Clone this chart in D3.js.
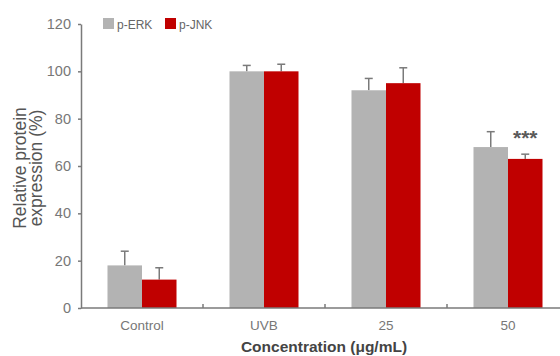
<!DOCTYPE html>
<html>
<head>
<meta charset="utf-8">
<script src="https://cdn.jsdelivr.net/npm/d3@7"></script>
<style>
  html, body { margin: 0; padding: 0; background: #fff; }
  svg { display: block; font-family: "Liberation Sans", Arial, sans-serif; }
</style>
</head>
<body>
<svg id="chart" width="560" height="356"></svg>
<script>
const categories = ["Control", "UVB", "25", "50"];
const seriesNames = ["p-ERK", "p-JNK"];
const erkValues = [18, 100, 92, 68];
const erkErrors = [6, 2.5, 5, 6.5];
const jnkValues = [12, 100, 95, 63];
const jnkErrors = [5, 3, 6.5, 2];
const yTicks = [0, 20, 40, 60, 80, 100, 120];
const colors = ["#b3b3b3", "#c00000"];
const significance = ["", "", "", "***"];

const svg = d3.select("#chart");
const x0 = 81, x1 = 569, yTop = 24, yBottom = 308;

const x = d3.scaleBand().domain(categories).range([x0, x1]).paddingInner(0).paddingOuter(0);
const xs = d3.scaleBand().domain(seriesNames).range([0, x.bandwidth()]).paddingInner(0).paddingOuter(0.768);
const y = d3.scaleLinear().domain([0, 120]).range([yBottom, yTop]);

const series = [
  { name: seriesNames[0], values: erkValues, errors: erkErrors, color: colors[0] },
  { name: seriesNames[1], values: jnkValues, errors: jnkErrors, color: colors[1] }
];

const axisColor = "#7a7a7a";

// Error bars (drawn behind bars)
series.forEach(s => {
  const g = svg.append("g");
  categories.forEach((c, i) => {
    const cx = x(c) + xs(s.name) + xs.bandwidth() / 2;
    const top = y(s.values[i] + s.errors[i]);
    g.append("line").attr("x1", cx).attr("x2", cx)
      .attr("y1", y(s.values[i])).attr("y2", top)
      .attr("stroke", axisColor).attr("stroke-width", 1.5);
    g.append("line").attr("x1", cx - 4).attr("x2", cx + 4)
      .attr("y1", top).attr("y2", top)
      .attr("stroke", axisColor).attr("stroke-width", 1.5);
  });
});

// Bars
series.forEach(s => {
  svg.append("g").selectAll("rect").data(categories).join("rect")
    .attr("x", c => x(c) + xs(s.name))
    .attr("width", xs.bandwidth())
    .attr("y", (c, i) => y(s.values[i]))
    .attr("height", (c, i) => y(0) - y(s.values[i]))
    .attr("fill", s.color);
});

// Y axis
const yAxis = svg.append("g").attr("transform", `translate(${x0},0)`)
  .call(d3.axisLeft(y).tickValues(yTicks).tickSize(3).tickPadding(7).tickSizeOuter(0));
yAxis.select(".domain").attr("stroke", axisColor).attr("stroke-width", 1.5);
yAxis.selectAll(".tick line").attr("stroke", axisColor).attr("stroke-width", 1.5);
yAxis.selectAll(".tick text").attr("fill", "#777").attr("font-size", 14.5)
  .attr("font-family", "Liberation Sans, Arial, sans-serif");

// X axis line with inward ticks at category boundaries
const xAxisG = svg.append("g");
xAxisG.append("line").attr("x1", x0).attr("x2", x1).attr("y1", yBottom).attr("y2", yBottom)
  .attr("stroke", axisColor).attr("stroke-width", 1.5);
xAxisG.selectAll("line.b").data(categories.slice(1)).join("line")
  .attr("class", "b")
  .attr("x1", c => x(c)).attr("x2", c => x(c))
  .attr("y1", yBottom).attr("y2", yBottom - 4)
  .attr("stroke", axisColor).attr("stroke-width", 1.5);
xAxisG.selectAll("text").data(categories).join("text")
  .attr("x", c => x(c) + x.bandwidth() / 2)
  .attr("y", 330)
  .attr("text-anchor", "middle")
  .attr("font-size", 13.5)
  .attr("fill", "#777")
  .text(c => c);

// Significance marks (above the p-JNK bar)
svg.append("g").selectAll("text").data(categories).join("text")
  .attr("x", c => x(c) + xs(seriesNames[1]) + xs.bandwidth() / 2)
  .attr("y", 145)
  .attr("text-anchor", "middle")
  .attr("font-size", 21)
  .attr("font-weight", "bold")
  .attr("fill", "#5a5a5a")
  .text((c, i) => significance[i]);

// Axis titles
svg.append("text")
  .attr("transform", "translate(26,168) rotate(-90)")
  .attr("text-anchor", "middle")
  .attr("font-size", 17.5)
  .attr("fill", "#555")
  .text("Relative protein");
svg.append("text")
  .attr("transform", "translate(42,168) rotate(-90)")
  .attr("text-anchor", "middle")
  .attr("font-size", 17.5)
  .attr("fill", "#555")
  .text("expression (%)");
svg.append("text")
  .attr("x", 324).attr("y", 352)
  .attr("text-anchor", "middle")
  .attr("font-size", 15.5)
  .attr("font-weight", "bold")
  .attr("fill", "#444")
  .text("Concentration (μg/mL)");

// Legend
const legend = svg.append("g");
const legendX = [103, 165];
series.forEach((s, i) => {
  legend.append("rect").attr("x", legendX[i]).attr("y", 18).attr("width", 11).attr("height", 11).attr("fill", s.color);
  legend.append("text").attr("x", legendX[i] + 14).attr("y", 28.5)
    .attr("font-size", 12).attr("fill", "#666").text(s.name);
});
</script>
</body>
</html>
